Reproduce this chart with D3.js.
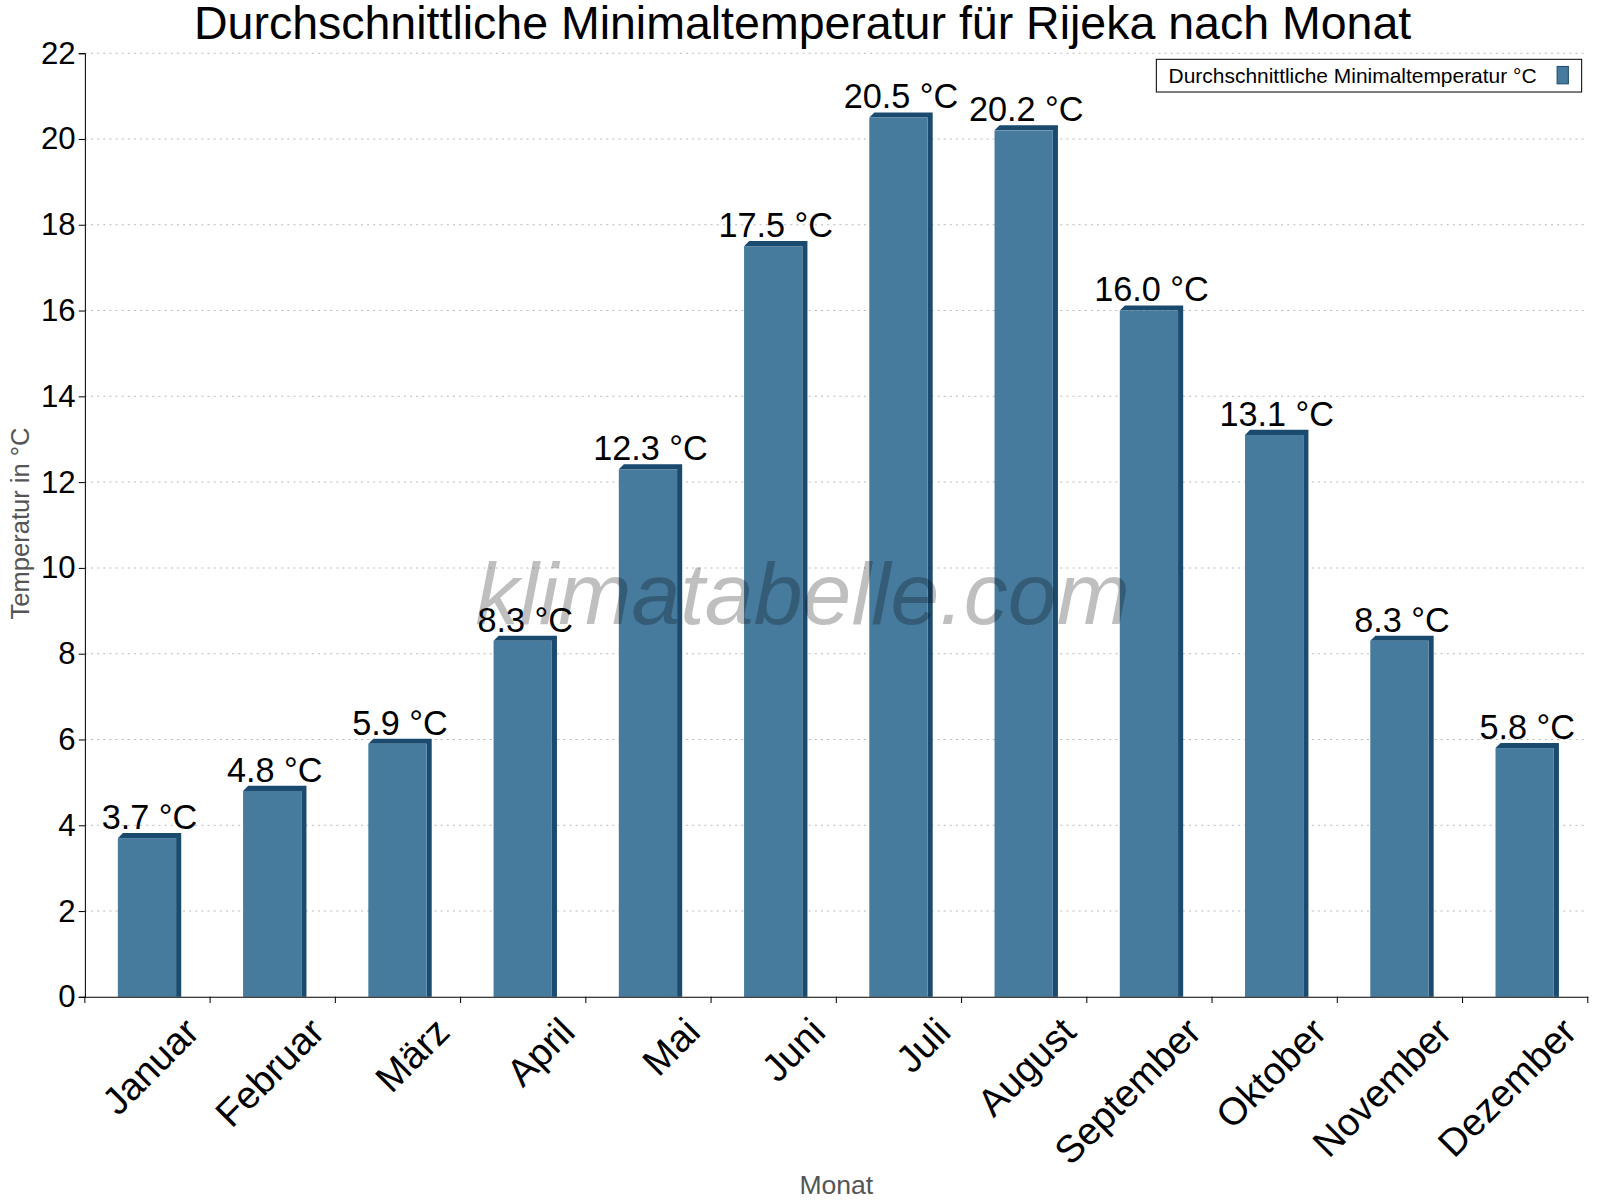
<!DOCTYPE html><html><head><meta charset="utf-8"><script src="https://cdn.jsdelivr.net/npm/d3@7"></script>
<style>body{margin:0;background:#fff}text{font-family:"Liberation Sans",Arial,sans-serif}</style></head><body><svg id="c" width="1600" height="1200"></svg>
<script>
const months=["Januar","Februar","März","April","Mai","Juni","Juli","August","September","Oktober","November","Dezember"];
const values=[3.7,4.8,5.9,8.3,12.3,17.5,20.5,20.2,16.0,13.1,8.3,5.8];
const yTicks=[0,2,4,6,8,10,12,14,16,18,20,22];
const svg=d3.select("#c").append("g").attr("transform","scale(1.0224)");
const L=83,R=1553,T=52,B=975;
const x=d3.scaleBand().domain(months).range([L,R]);
const y=d3.scaleLinear().domain([0,22]).range([B,T]);
svg.append("g").selectAll("line").data(yTicks.slice(1)).join("line").attr("x1",L).attr("x2",R).attr("y1",d=>y(d)).attr("y2",d=>y(d)).attr("stroke","#bbb").attr("stroke-dasharray","2,4");
const w=57,dp=5;
const g=svg.append("g").selectAll("g").data(values).join("g");
g.append("polygon").attr("fill","#1a4a6e").attr("points",(d,i)=>{const x0=x.bandwidth()/2+x(months[i])-29,yt=y(d);return `${x0},${yt} ${x0+dp},${yt-dp} ${x0+w+dp},${yt-dp} ${x0+w+dp},${B} ${x0+w},${B} ${x0+w},${yt}`;});
g.append("rect").attr("fill","#467b9e").attr("x",(d,i)=>x(months[i])+x.bandwidth()/2-29).attr("width",w).attr("y",d=>y(d)).attr("height",d=>B-y(d));
svg.append("text").attr("x",785).attr("y",610).attr("text-anchor","middle").attr("font-size",86).attr("font-style","italic").attr("fill","#000").attr("fill-opacity",0.25).text("klimatabelle.com");
g.append("text").attr("x",(d,i)=>x(months[i])+x.bandwidth()/2+2).attr("y",d=>y(d)-9).attr("text-anchor","middle").attr("font-size",33.5).text(d=>d.toFixed(1)+" °C");
const ya=svg.append("g").attr("transform",`translate(${L},0)`).call(d3.axisLeft(y).tickValues(yTicks).tickSize(6).tickFormat(d3.format("d")));
ya.selectAll("text").attr("font-size",30.5).attr("fill","#000");
svg.append("g").attr("transform",`translate(0,${B})`).call(d3.axisBottom(x).tickSize(0).tickFormat(""));
svg.append("g").selectAll("line").data(d3.range(13)).join("line").attr("x1",i=>L+i*x.bandwidth()).attr("x2",i=>L+i*x.bandwidth()).attr("y1",B).attr("y2",B+6).attr("stroke","#000");
svg.selectAll("path.domain").attr("stroke","#000");
svg.append("g").selectAll("text").data(months).join("text").attr("font-size",37.5).attr("text-anchor","end")
 .attr("transform",d=>`translate(${x(d)+x.bandwidth()/2+34},${B+18}) rotate(-45)`).attr("dy","0.7em").text(d=>d);
svg.append("text").attr("x",785).attr("y",38).attr("text-anchor","middle").attr("font-size",45.5).text("Durchschnittliche Minimaltemperatur für Rijeka nach Monat");
svg.append("text").attr("x",818).attr("y",1168).attr("text-anchor","middle").attr("font-size",26).attr("fill","#555").text("Monat");
svg.append("text").attr("transform","translate(28,512) rotate(-90)").attr("text-anchor","middle").attr("font-size",25).attr("fill","#555").text("Temperatur in °C");
svg.append("rect").attr("x",1131).attr("y",58).attr("width",416).attr("height",32).attr("fill","#fff").attr("stroke","#000");
svg.append("text").attr("x",1143).attr("y",81).attr("font-size",20.5).text("Durchschnittliche Minimaltemperatur °C");
svg.append("rect").attr("x",1523).attr("y",65).attr("width",11).attr("height",17).attr("fill","#467b9e").attr("stroke","#1a4a6e");
</script></body></html>
